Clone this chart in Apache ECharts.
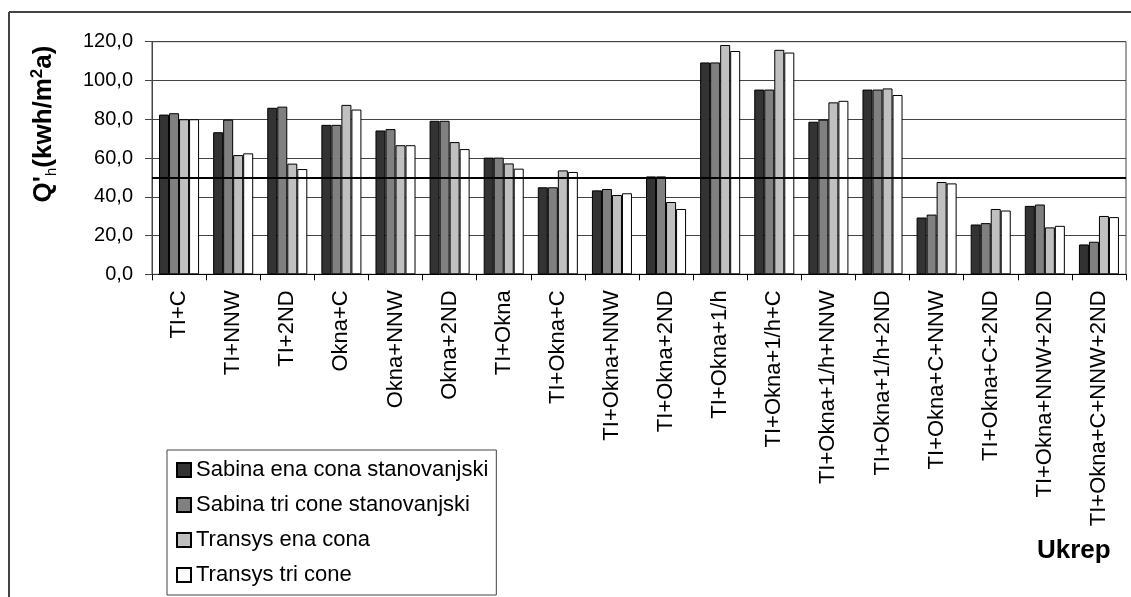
<!DOCTYPE html>
<html>
<head>
<meta charset="utf-8">
<script src="https://cdn.jsdelivr.net/npm/echarts@6/dist/echarts.min.js"></script>
<style>
  html, body { margin: 0; padding: 0; background: #fff; }
  #chart { width: 1131px; height: 597px; }
</style>
</head>
<body>
<div id="chart"></div>
<script>
const categories = [
  'TI+C', 'TI+NNW', 'TI+2ND', 'Okna+C', 'Okna+NNW', 'Okna+2ND',
  'TI+Okna', 'TI+Okna+C', 'TI+Okna+NNW', 'TI+Okna+2ND', 'TI+Okna+1/h',
  'TI+Okna+1/h+C', 'TI+Okna+1/h+NNW', 'TI+Okna+1/h+2ND', 'TI+Okna+C+NNW',
  'TI+Okna+C+2ND', 'TI+Okna+NNW+2ND', 'TI+Okna+C+NNW+2ND'
]
const sabinaEna = [82.4, 73.3, 85.9, 77.1, 74.2, 79.2, 60.2, 44.9, 43.3, 50.5, 109.3, 95.3, 78.7, 95.3, 29.3, 25.7, 35.3, 15.4]
const sabinaTri = [83.1, 79.8, 86.5, 77.1, 74.9, 79.2, 60.2, 44.9, 44.0, 50.5, 109.3, 95.3, 79.8, 95.3, 30.8, 26.4, 36.0, 16.8]
const transysEna = [80.0, 61.5, 57.1, 87.4, 66.6, 68.2, 57.2, 53.6, 40.9, 37.3, 118.3, 115.8, 88.7, 95.9, 47.6, 33.7, 24.2, 30.1]
const transysTri = [80.0, 62.4, 54.3, 85.0, 66.6, 64.6, 54.5, 52.8, 41.8, 33.7, 115.2, 114.4, 89.5, 92.5, 46.9, 32.9, 25.0, 29.5]
const limitValue = 50

const seriesNames = ['Sabina ena cona stanovanjski', 'Sabina tri cone stanovanjski', 'Transys ena cona', 'Transys tri cone']
const seriesColors = ['#333333', '#808080', '#c0c0c0', '#ffffff']
const seriesData = [sabinaEna, sabinaTri, transysEna, transysTri]

const font = '"Liberation Sans", Arial, sans-serif'
const chart = echarts.init(document.getElementById('chart'))

const series = seriesData.map((d, i) => ({
  name: seriesNames[i],
  type: 'bar',
  data: d,
  barGap: '0%',
  barCategoryGap: '26%',
  itemStyle: { color: seriesColors[i], borderColor: '#000', borderWidth: 1 },
  emphasis: { disabled: true }
}))
// horizontal limit line at 50
series[0].markLine = {
  silent: true,
  symbol: 'none',
  label: { show: false },
  lineStyle: { color: '#000', width: 2, type: 'solid' },
  data: [{ yAxis: limitValue }]
}

chart.setOption({
  animation: false,
  textStyle: { fontFamily: font },
  grid: {
    left: 152, right: 5, top: 41.7, bottom: 322.7,
    show: true, borderColor: '#444', borderWidth: 1
  },
  legend: {
    orient: 'vertical',
    left: 167,
    top: 450,
    padding: [9, 8, 9, 9],
    itemGap: 13,
    itemWidth: 14,
    itemHeight: 14,
    icon: 'rect',
    borderColor: '#444',
    borderWidth: 1,
    textStyle: { fontSize: 22, color: '#000', fontFamily: font },
    data: seriesNames
  },
  xAxis: {
    type: 'category',
    data: categories,
    axisLine: { lineStyle: { color: '#000', width: 1 } },
    axisTick: { show: true, length: 6, lineStyle: { color: '#000' } },
    axisLabel: {
      rotate: 90,
      margin: 16,
      fontSize: 22,
      color: '#000',
      fontFamily: font,
      interval: 0
    },
    splitLine: { show: false }
  },
  yAxis: [
    {
      type: 'value',
      min: 0,
      max: 120,
      interval: 20,
      axisLine: { show: true, lineStyle: { color: '#444' } },
      axisTick: { show: true, length: 7, lineStyle: { color: '#444' } },
      axisLabel: {
        margin: 19,
        fontSize: 20,
        color: '#000',
        fontFamily: font,
        formatter: v => v.toFixed(1).replace('.', ',')
      },
      splitLine: { lineStyle: { color: '#444', width: 1 } }
    },
    {
      // second copy only to draw the tick marks crossing into the plot
      type: 'value',
      position: 'left',
      min: 0,
      max: 120,
      interval: 20,
      axisLine: { show: false },
      axisTick: { show: true, inside: true, length: 6, lineStyle: { color: '#444' } },
      axisLabel: { show: false },
      splitLine: { show: false }
    }
  ],
  graphic: [
    {
      type: 'line',
      shape: { x1: 9, y1: 12, x2: 1131, y2: 12 },
      style: { stroke: '#444', lineWidth: 2 }
    },
    {
      type: 'line',
      shape: { x1: 9, y1: 12, x2: 9, y2: 597 },
      style: { stroke: '#444', lineWidth: 2 }
    },
    {
      type: 'text',
      x: 44,
      y: 124,
      rotation: Math.PI / 2,
      style: {
        text: "{b|Q'}{sub|h}{b|(kwh/m}{sup|2}{b|a)}",
        align: 'center',
        verticalAlign: 'middle',
        rich: {
          b: { fontSize: 26, fontWeight: 'bold', fontFamily: font, fill: '#000', lineHeight: 30 },
          sub: { fontSize: 15, fontWeight: 'normal', fontFamily: font, fill: '#000', verticalAlign: 'bottom', lineHeight: 30 },
          sup: { fontSize: 17, fontWeight: 'bold', fontFamily: font, fill: '#000', verticalAlign: 'top', lineHeight: 30 }
        }
      }
    },
    {
      type: 'text',
      x: 1037,
      y: 551,
      style: {
        text: 'Ukrep',
        fontSize: 26,
        fontWeight: 'bold',
        fontFamily: font,
        fill: '#000',
        align: 'left',
        verticalAlign: 'middle'
      }
    }
  ],
  series: series
})
</script>
</body>
</html>
